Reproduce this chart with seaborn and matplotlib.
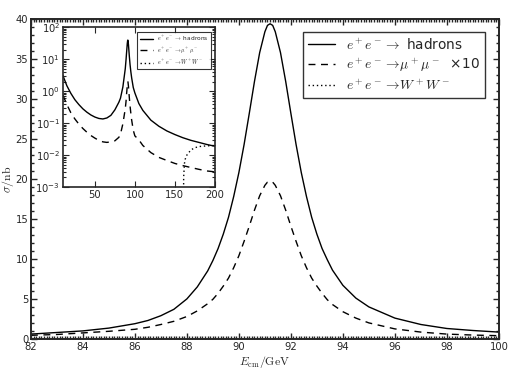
import numpy as np
import pandas as pd
import matplotlib
matplotlib.use("Agg")
import matplotlib.pyplot as plt
import seaborn as sns
from matplotlib.ticker import MultipleLocator, LogLocator, NullFormatter

# --- main panel: Z line shape (82-100 GeV) ---
e_main = [82, 83, 84, 85, 86, 86.5, 87, 87.5, 88, 88.4, 88.8, 89.0, 89.2, 89.4,
          89.6, 89.8, 90.0, 90.2, 90.4, 90.6, 90.8, 91.0, 91.1, 91.2, 91.3, 91.4,
          91.6, 91.8, 92.0, 92.2, 92.4, 92.6, 92.8, 93.0, 93.2, 93.4, 93.6, 94.0,
          94.5, 95.0, 96.0, 97.0, 98.0, 99.0, 100.0]
had_main = [0.6, 0.8, 1.0, 1.35, 1.9, 2.3, 2.9, 3.7, 5.0, 6.5, 8.5, 9.8, 11.3, 13.1,
            15.2, 17.8, 20.8, 24.3, 28.2, 32.2, 35.8, 38.4, 39.2, 39.4, 39.2, 38.4,
            35.8, 32.2, 28.2, 24.3, 20.8, 17.8, 15.2, 13.1, 11.3, 9.9, 8.6, 6.7,
            5.1, 4.0, 2.6, 1.8, 1.3, 1.05, 0.85]
mumu10_main = [0.45, 0.55, 0.75, 0.95, 1.2, 1.45, 1.8, 2.2, 2.8, 3.5, 4.4, 4.95, 5.7, 6.6,
               7.6, 8.9, 10.4, 12.2, 14.1, 16.1, 17.9, 19.2, 19.6, 19.7, 19.6, 19.2,
               17.9, 16.1, 14.1, 12.2, 10.4, 8.9, 7.6, 6.6, 5.7, 4.9, 4.3, 3.4,
               2.6, 2.0, 1.25, 0.85, 0.6, 0.48, 0.4]

# --- inset: 10-200 GeV, log scale ---
e_ins = [10, 15, 20, 25, 30, 35, 40, 45, 50, 55, 60, 65, 70, 75, 80, 82, 85, 88,
         89, 89.5, 90, 90.5, 91.0, 91.2, 91.4, 92, 92.5, 93, 94, 95, 96, 98, 100,
         105, 110, 120, 130, 140, 150, 160, 170, 180, 190, 200]
had_ins = [3.1, 1.47, 0.85, 0.54, 0.38, 0.28, 0.22, 0.18, 0.155, 0.14, 0.135, 0.145,
           0.175, 0.26, 0.45, 0.6, 1.35, 5.0, 9.8, 14.5, 20.8, 30.5, 38.4, 39.4, 38.4,
           28.2, 19.3, 13.1, 6.7, 4.0, 2.6, 1.3, 0.88, 0.41, 0.25, 0.124, 0.08, 0.057,
           0.044, 0.035, 0.029, 0.025, 0.0215, 0.019]
mumu_ins = [0.75, 0.38, 0.21, 0.135, 0.093, 0.068, 0.052, 0.041, 0.034, 0.029, 0.026,
            0.025, 0.026, 0.028, 0.036, 0.045, 0.095, 0.28, 0.49, 0.75, 1.04, 1.5, 1.92,
            1.97, 1.92, 1.41, 0.96, 0.66, 0.34, 0.2, 0.125, 0.06, 0.04, 0.03, 0.02,
            0.012, 0.0085, 0.0068, 0.0055, 0.0047, 0.0041, 0.0036, 0.0032, 0.003]
e_ww = [160.8, 161, 162, 163, 165, 170, 175, 180, 190, 200]
ww_ins = [1e-5, 0.002, 0.0055, 0.0075, 0.01, 0.0145, 0.017, 0.0185, 0.0195, 0.02]

lab_had = r"$e^+e^-\rightarrow$ hadrons"
lab_mu = r"$e^+e^-\rightarrow\!\mu^+\mu^-$"
lab_ww = r"$e^+e^-\rightarrow\!W^+W^-$"

df_main = pd.DataFrame({"E": e_main, "had": had_main, "mumu10": mumu10_main})
df_ins = pd.DataFrame({"E": e_ins, "had": had_ins, "mumu": mumu_ins})
df_ww = pd.DataFrame({"E": e_ww, "ww": ww_ins})

sns.set_style("ticks")
plt.rcParams["font.family"] = ["DejaVu Sans"]
plt.rcParams["mathtext.fontset"] = "cm"
plt.rcParams["xtick.direction"] = "in"
plt.rcParams["ytick.direction"] = "in"

fig = plt.figure(figsize=(5.24, 3.72), dpi=100)
ax = fig.add_axes([0.059, 0.089, 0.893, 0.860])

sns.lineplot(data=df_main, x="E", y="had", ax=ax, color="k", lw=1.0, label=lab_had)
sns.lineplot(data=df_main, x="E", y="mumu10", ax=ax, color="k", lw=1.0,
             linestyle=(0, (5, 4)), label=lab_mu + "  ×10")
# W+W- is above 160 GeV, so it only shows up in the legend here
sns.lineplot(data=df_ww, x="E", y="ww", ax=ax, color="k", lw=1.0,
             linestyle=(0, (1, 2)), label=lab_ww)

ax.set_xlim(82, 100)
ax.set_ylim(0, 40)
ax.xaxis.set_major_locator(MultipleLocator(2))
ax.xaxis.set_minor_locator(MultipleLocator(0.1))
ax.yaxis.set_major_locator(MultipleLocator(5))
ax.yaxis.set_minor_locator(MultipleLocator(1))
ax.tick_params(which="both", top=True, right=True, labelsize=7.2, width=1.0, pad=2)
ax.tick_params(which="major", length=4)
ax.tick_params(which="minor", length=2)
for s in ax.spines.values():
    s.set_linewidth(1.4)
ax.set_xlabel(r"$E_{\rm cm}/{\rm GeV}$", fontsize=8.5, labelpad=2)
ax.set_ylabel(r"$\sigma/{\rm nb}$", fontsize=8.5)
ax.yaxis.set_label_coords(-0.032, 0.5)

leg = ax.legend(loc="upper right", fontsize=9.8, frameon=True, fancybox=False,
                handlelength=2.0, borderpad=0.4, labelspacing=0.3,
                bbox_to_anchor=(0.986, 0.982))
leg.get_frame().set_edgecolor("k")
leg.get_frame().set_linewidth(1.0)

# --- inset ---
axi = fig.add_axes([0.120, 0.497, 0.290, 0.430])
sns.lineplot(data=df_ins, x="E", y="had", ax=axi, color="k", lw=1.0, label=lab_had)
sns.lineplot(data=df_ins, x="E", y="mumu", ax=axi, color="k", lw=1.0,
             linestyle=(0, (5, 4)), label=lab_mu)
sns.lineplot(data=df_ww, x="E", y="ww", ax=axi, color="k", lw=1.0,
             linestyle=(0, (1, 2)), label=lab_ww)
axi.set_yscale("log")
axi.set_xlim(10, 200)
axi.set_ylim(1e-3, 1e2)
axi.xaxis.set_major_locator(MultipleLocator(50))
axi.yaxis.set_major_locator(LogLocator(base=10, numticks=10))
axi.yaxis.set_minor_locator(LogLocator(base=10, subs=np.arange(2, 10), numticks=10))
axi.yaxis.set_minor_formatter(NullFormatter())
axi.tick_params(which="both", top=True, right=True, labelsize=7.2, width=0.8, pad=2)
axi.tick_params(which="major", length=4)
axi.tick_params(which="minor", length=2)
axi.set_xlabel("")
axi.set_ylabel("")
for s in axi.spines.values():
    s.set_linewidth(1.2)
li = axi.legend(loc="upper right", fontsize=4.2, frameon=True, fancybox=False,
                handlelength=2.2, borderpad=0.4, labelspacing=0.35,
                bbox_to_anchor=(0.995, 0.99))
li.get_frame().set_edgecolor("k")
li.get_frame().set_linewidth(0.8)

fig.savefig("out.png", dpi=100)
